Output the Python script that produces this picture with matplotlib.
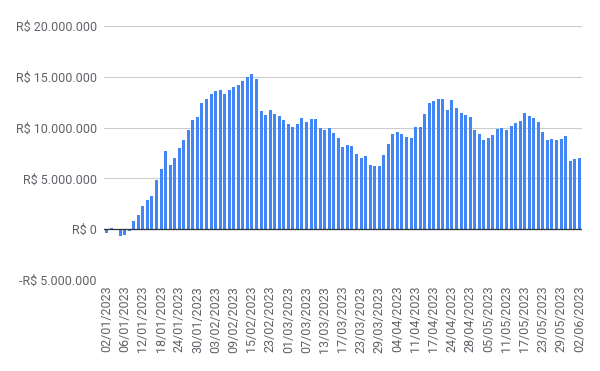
import datetime as dt
from matplotlib import pyplot as plt
from matplotlib.ticker import FuncFormatter

plt.rcParams['font.family'] = ['Roboto', 'DejaVu Sans']

# B3 trading days, 02/01/2023 to 02/06/2023 (holidays skipped)
holidays = ['20/02/2023', '21/02/2023', '07/04/2023', '21/04/2023', '01/05/2023']
start = dt.date(2023, 1, 2)
end = dt.date(2023, 6, 2)

# daily values in millions of R$
values_mi = [
    -0.33, 0.10, 0.0, -0.70, -0.52, -0.15, 0.77, 1.44, 2.32, 2.92,
    3.32, 4.88, 5.95, 7.73, 6.35, 7.05, 8.04, 8.82, 9.80, 10.75,
    11.05, 12.42, 12.84, 13.33, 13.63, 13.73, 13.33, 13.73, 14.02, 14.20,
    14.60, 15.00, 15.30, 14.80, 11.63, 11.26, 11.76, 11.37, 11.18, 10.78,
    10.39, 10.10, 10.39, 10.98, 10.59, 10.88, 10.88, 10.00, 9.80, 10.00,
    9.51, 9.02, 8.14, 8.33, 8.24, 7.45, 7.06, 7.25, 6.37, 6.18,
    6.18, 7.35, 8.43, 9.41, 9.60, 9.41, 9.12, 9.02, 10.10, 10.10,
    11.37, 12.42, 12.61, 12.81, 12.81, 11.76, 12.75, 11.96, 11.47, 11.27,
    11.08, 9.80, 9.41, 8.82, 9.02, 9.31, 9.90, 10.00, 9.80, 10.20,
    10.49, 10.69, 11.47, 11.18, 10.98, 10.59, 9.60, 8.82, 8.92, 8.82,
    8.92, 9.22, 6.76, 6.93, 7.06,
]

dates = []
d = start
while d <= end:
    s = d.strftime('%d/%m/%Y')
    if d.weekday() < 5 and s not in holidays:
        dates.append(s)
    d += dt.timedelta(days=1)

values = [v * 1e6 for v in values_mi]
x = list(range(len(values)))


def brl(v, pos=None):
    txt = '{:,.0f}'.format(abs(v)).replace(',', '.')
    return ('-R$ ' if v < 0 else 'R$ ') + txt


fig = plt.figure(figsize=(6, 3.71), dpi=100)
ax = fig.add_axes([0.173, 0.245, 0.797, 0.685])

ax.bar(x, values, width=0.66, color='#4285f4', zorder=3)

ax.set_ylim(-5e6, 20e6)
ax.set_yticks([-5e6, 0, 5e6, 10e6, 15e6, 20e6])
ax.yaxis.set_major_formatter(FuncFormatter(brl))
ax.set_xlim(-0.6, len(values) - 0.4)
ax.set_xticks(x[::4])
ax.set_xticklabels(dates[::4], rotation=90)

ax.grid(axis='y', color='#cccccc', lw=0.8, zorder=0)
ax.axhline(0, color='#333333', lw=0.9, zorder=4)
for sp in ax.spines.values():
    sp.set_visible(False)
ax.tick_params(axis='both', length=0, labelsize=9, labelcolor='#5f6368')
ax.tick_params(axis='y', pad=5)
ax.tick_params(axis='x', pad=4)

plt.savefig('out.png', dpi=100)
